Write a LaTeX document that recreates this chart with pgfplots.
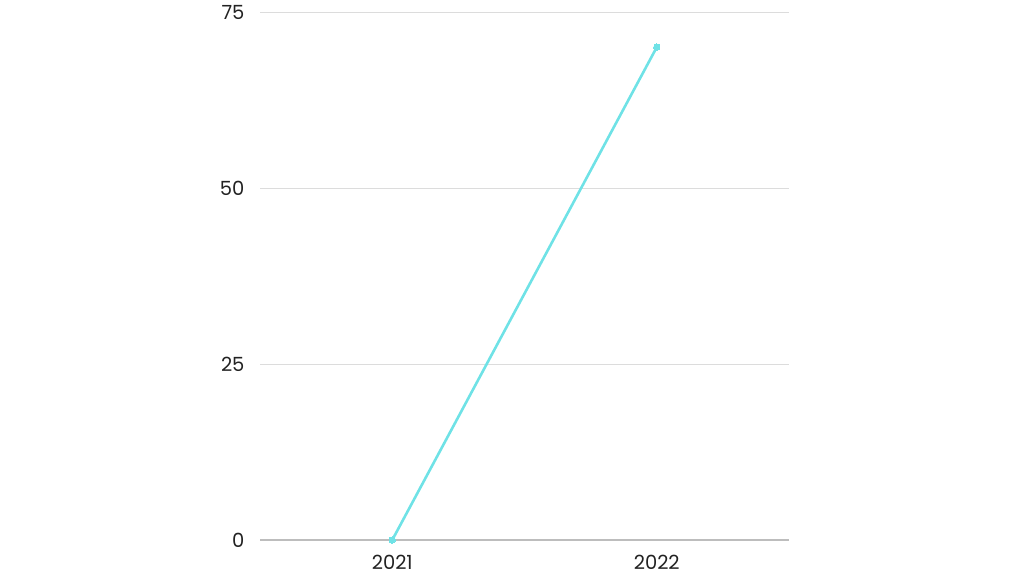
\documentclass[border=0pt]{standalone}
\usepackage{pgfplots}
\pgfplotsset{compat=1.18}
\usepackage{fontspec}
\setmainfont{Poppins}
\definecolor{linec}{HTML}{6FE2E6}
\definecolor{gridc}{HTML}{DCDCDC}
\definecolor{basec}{HTML}{BDBDBD}
\definecolor{textc}{HTML}{222222}
\begin{document}
\begin{tikzpicture}[x=1pt,y=1pt]
\path[use as bounding box] (0,0) rectangle (1024,576);
\begin{axis}[
  at={(260pt,36pt)}, anchor=south west,
  width=529pt, height=528pt, scale only axis,
  xmin=-0.5, xmax=1.5, ymin=0, ymax=75,
  xtick={0,1}, xticklabels={2021,2022},
  ytick={0,25,50,75},
  axis line style={draw=none},
  major tick length=0pt,
  ymajorgrids, grid style={gridc, line width=0.8pt},
  tick label style={font=\fontsize{19.5}{22}\selectfont, text=textc},
  /pgf/number format/assume math mode=true,
  yticklabel style={xshift=-12pt},
  xticklabel style={yshift=-12pt},
  clip=false,
]
\draw[basec, line width=1.2pt] (axis cs:-0.5,0) -- (axis cs:1.5,0);
\addplot[linec, line width=2.6pt, mark=*, mark size=3.2pt, mark options={fill=linec, draw=linec, line width=0pt}] coordinates {(0,0) (1,70)};
\end{axis}
\end{tikzpicture}
\end{document}
